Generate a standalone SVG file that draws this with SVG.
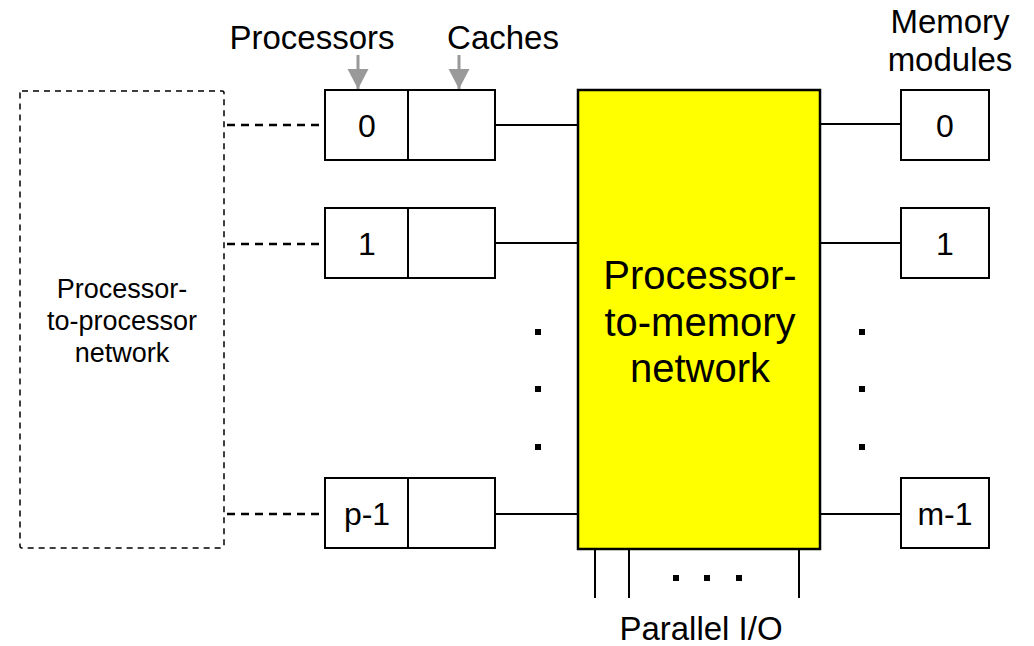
<svg xmlns="http://www.w3.org/2000/svg" width="1034" height="646" viewBox="0 0 1034 646">
<defs>
<style>
text{font-family:"Liberation Sans",Arial,sans-serif;fill:#000;text-anchor:middle}
.box{fill:#fff;stroke:#000;stroke-width:2}
.ln{stroke:#000;stroke-width:2;fill:none}
.dash{stroke:#000;stroke-width:2.5;fill:none;stroke-dasharray:8,6}
.dbox{stroke:#000;stroke-width:1.5;fill:none;stroke-dasharray:6,5}
.lbl{font-size:33px}
.num{font-size:32px}
.dot{fill:#000}
.garrow{stroke:#999;stroke-width:3}
</style>
<marker id="ga" viewBox="0 0 22 21" refX="21" refY="11" markerWidth="21" markerHeight="22" markerUnits="userSpaceOnUse" orient="auto"><path d="M0,0 L21,11 L0,22 z" fill="#999"/></marker>
</defs>
<rect width="1034" height="646" fill="#fff"/>
<g id="ptp-network">
<rect class="dbox" x="20" y="91" width="204" height="457" rx="2"/>
<text font-size="27"><tspan x="122" y="298">Processor-</tspan><tspan x="122" y="330">to-processor</tspan><tspan x="122" y="362">network</tspan></text>
</g>
<g id="connectors">
<line class="dash" x1="227" y1="125" x2="325" y2="125"/>
<line class="dash" x1="227" y1="244" x2="325" y2="244"/>
<line class="dash" x1="227" y1="514" x2="325" y2="514"/>
<line class="ln" x1="495" y1="125" x2="578" y2="125"/>
<line class="ln" x1="495" y1="243" x2="578" y2="243"/>
<line class="ln" x1="495" y1="514" x2="578" y2="514"/>
<line class="ln" x1="820" y1="124" x2="901" y2="124"/>
<line class="ln" x1="820" y1="243" x2="901" y2="243"/>
<line class="ln" x1="820" y1="514" x2="901" y2="514"/>
<line class="ln" x1="595" y1="546" x2="595" y2="598"/>
<line class="ln" x1="629" y1="546" x2="629" y2="598"/>
<line class="ln" x1="799" y1="546" x2="799" y2="598"/>
<line class="garrow" x1="358" y1="55" x2="358" y2="89" marker-end="url(#ga)"/>
<line class="garrow" x1="459" y1="55" x2="459" y2="89" marker-end="url(#ga)"/>
</g>
<g id="labels">
<text class="lbl" x="312" y="49">Processors</text>
<text class="lbl" x="503" y="49">Caches</text>
<text class="lbl"><tspan x="950" y="33">Memory</tspan><tspan x="950" y="71">modules</tspan></text>
<text class="lbl" x="701" y="640">Parallel I/O</text>
</g>
<g id="proc-0">
<rect class="box" x="325" y="90" width="83" height="70"/>
<rect class="box" x="408" y="90" width="87" height="70"/>
<text class="num" x="367" y="137">0</text>
</g>
<g id="proc-1">
<rect class="box" x="325" y="208" width="83" height="70"/>
<rect class="box" x="408" y="208" width="87" height="70"/>
<text class="num" x="367" y="255">1</text>
</g>
<g id="proc-p-1">
<rect class="box" x="325" y="478" width="83" height="70"/>
<rect class="box" x="408" y="478" width="87" height="70"/>
<text class="num" x="367" y="525">p-1</text>
</g>
<g id="ptm-network">
<rect x="578" y="90" width="242" height="459" fill="#ff0" stroke="#000" stroke-width="2.5"/>
<text font-size="40"><tspan x="700" y="289">Processor-</tspan><tspan x="700" y="336">to-memory</tspan><tspan x="700" y="382">network</tspan></text>
</g>
<g id="mem-0">
<rect class="box" x="901" y="90" width="88" height="70"/>
<text class="num" x="945" y="137">0</text>
</g>
<g id="mem-1">
<rect class="box" x="901" y="208" width="88" height="70"/>
<text class="num" x="945" y="255">1</text>
</g>
<g id="mem-m-1">
<rect class="box" x="901" y="478" width="88" height="70"/>
<text class="num" x="945" y="525">m-1</text>
</g>
<g id="ellipses">
<rect class="dot" x="535" y="329" width="6" height="6"/>
<rect class="dot" x="535" y="386" width="6" height="6"/>
<rect class="dot" x="535" y="444" width="6" height="6"/>
<rect class="dot" x="859" y="329" width="6" height="6"/>
<rect class="dot" x="859" y="386" width="6" height="6"/>
<rect class="dot" x="859" y="444" width="6" height="6"/>
<rect class="dot" x="673" y="575" width="6" height="6"/>
<rect class="dot" x="704" y="575" width="6" height="6"/>
<rect class="dot" x="736" y="575" width="6" height="6"/>
</g>
</svg>
